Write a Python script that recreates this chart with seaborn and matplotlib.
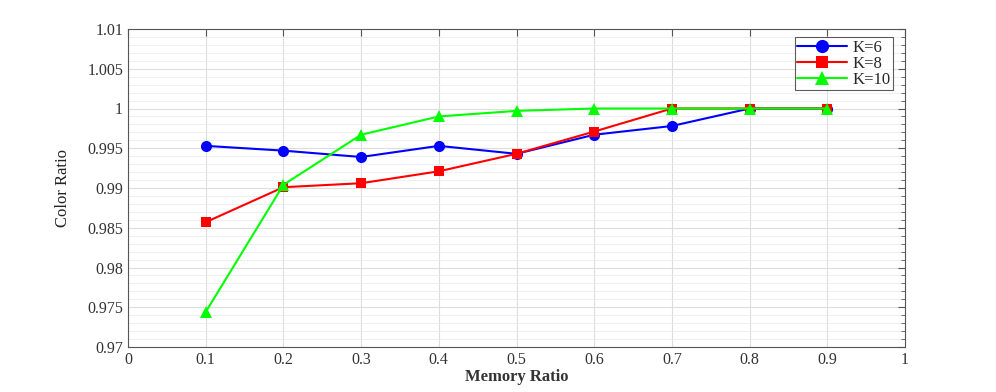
import matplotlib
matplotlib.use("Agg")
import matplotlib.pyplot as plt
import seaborn as sns
import pandas as pd
import numpy as np
from matplotlib.ticker import MultipleLocator

# data
memory_ratio = [0.1, 0.2, 0.3, 0.4, 0.5, 0.6, 0.7, 0.8, 0.9]
k6 = [0.9953, 0.9947, 0.9939, 0.9953, 0.9943, 0.9967, 0.9978, 1.0, 1.0]
k8 = [0.9857, 0.9901, 0.9906, 0.9921, 0.9943, 0.9971, 1.0, 1.0, 1.0]
k10 = [0.9744, 0.9904, 0.9967, 0.9990, 0.9997, 1.0, 1.0, 1.0, 1.0]
series_names = ["K=6", "K=8", "K=10"]
colors = ["#0000ff", "#ff0000", "#00ff00"]
markers = ["o", "s", "^"]

df = pd.DataFrame({"Memory Ratio": memory_ratio, "K=6": k6, "K=8": k8, "K=10": k10})
long_df = df.melt(id_vars="Memory Ratio", var_name="K", value_name="Color Ratio")

sns.set_style("white")
plt.rcParams["font.family"] = ["Liberation Serif", "DejaVu Serif"]

fig = plt.figure(figsize=(9.96, 3.92), dpi=100)
ax = fig.add_axes([128 / 996, 1 - 347 / 392, (905 - 128) / 996, (347 - 29) / 392])

sns.lineplot(data=long_df, x="Memory Ratio", y="Color Ratio", hue="K", style="K",
             hue_order=series_names, style_order=series_names, palette=colors,
             markers=markers, dashes=False, markersize=8, linewidth=1.5,
             markeredgewidth=0, ax=ax)

# marker sizes differ a bit per shape in the reference; later series on top
msize = {"o": 8, "s": 6.5, "^": 8.5}
zord = {"o": 3, "s": 4, "^": 5}
for ln in ax.lines:
    m = ln.get_marker()
    if m in msize:
        ln.set_markersize(msize[m])
        ln.set_zorder(zord[m])

ax.set_xlim(0, 1)
ax.set_ylim(0.97, 1.01)
ax.set_xticks(np.arange(0, 1.01, 0.1))
ax.set_xticklabels(["0", "0.1", "0.2", "0.3", "0.4", "0.5", "0.6", "0.7", "0.8", "0.9", "1"])
ax.set_yticks([0.97, 0.975, 0.98, 0.985, 0.99, 0.995, 1.0, 1.005, 1.01])
ax.set_yticklabels(["0.97", "0.975", "0.98", "0.985", "0.99", "0.995", "1", "1.005", "1.01"])
ax.yaxis.set_minor_locator(MultipleLocator(0.001))

ax.grid(True, which="major", color="#dddddd", linewidth=0.8)
ax.grid(True, which="minor", axis="y", color="#ececec", linewidth=0.6)
ax.set_axisbelow(True)
for s in ax.spines.values():
    s.set_color("#555555")
    s.set_linewidth(0.8)
ax.tick_params(which="both", direction="in", top=True, right=True, colors="#555555",
               labelcolor="#333333", labelsize=11.5)
ax.tick_params(which="major", length=5)
ax.tick_params(which="minor", length=3)

ax.set_xlabel("Memory Ratio", fontsize=12, fontweight="bold", color="#333333", labelpad=1)
ax.set_ylabel("Color Ratio", fontsize=12, color="#222222", labelpad=12)

handles, labels = ax.get_legend_handles_labels()
for h in handles:
    m = h.get_marker()
    if m in msize:
        h.set_markersize(msize[m] + 1.5)
leg = ax.legend(handles, labels, loc="upper right", fontsize=12, frameon=True, fancybox=False,
                borderpad=0.15, labelspacing=0.0, handlelength=3.0, handletextpad=0.3,
                borderaxespad=0.5, bbox_to_anchor=(0.995, 1.0))
leg.get_frame().set_edgecolor("#333333")
leg.get_frame().set_linewidth(0.8)

fig.savefig("out.png", dpi=100)
